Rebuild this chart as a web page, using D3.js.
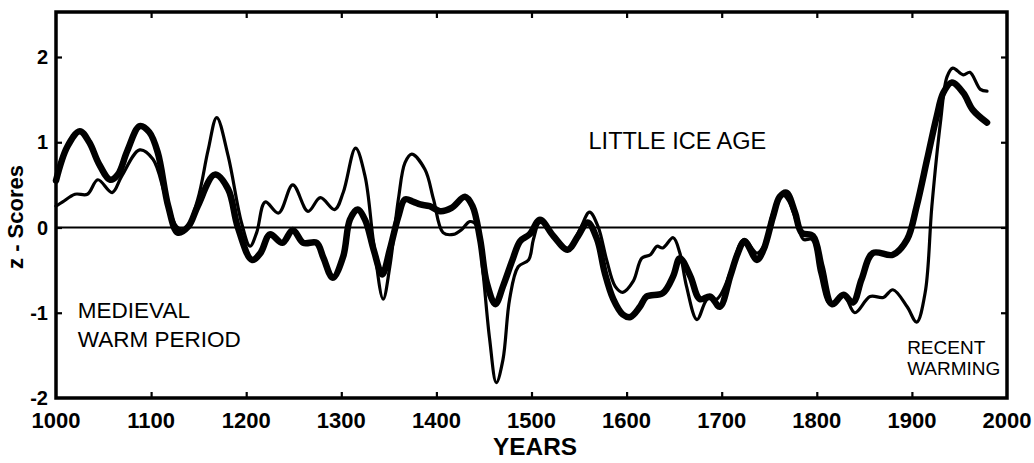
<!DOCTYPE html>
<html><head><meta charset="utf-8">
<script src="https://cdn.jsdelivr.net/npm/d3@7"></script>
<style>body{margin:0;background:#fff}svg{display:block}</style>
</head><body>
<svg id="c" width="1034" height="463"></svg>
<script>
const xTicks = [1000,1100,1200,1300,1400,1500,1600,1700,1800,1900,2000];
const yTicks = [-2,-1,0,1,2];
const thickYears = [1000,1012,1025,1035,1045,1057,1065,1075,1088,1098,1107,1118,1128,1139,1149,1167,1181,1191,1206,1215,1225,1238,1249,1260,1274,1281,1291,1302,1309,1317,1325,1334,1343,1351,1360,1367,1376,1383,1393,1404,1416,1430,1438,1446,1453,1462,1470,1480,1488,1498,1509,1523,1538,1549,1559,1569,1577,1586,1596,1604,1614,1621,1638,1649,1656,1667,1677,1688,1698,1709,1717,1724,1737,1744,1754,1761,1768,1777,1784,1796,1805,1816,1828,1838,1847,1859,1880,1895,1905,1916,1926,1933,1942,1954,1964,1979];
const thickValues = [0.55,0.95,1.13,1.0,0.75,0.56,0.62,0.9,1.19,1.12,0.88,0.25,-0.06,0.01,0.25,0.62,0.45,0.01,-0.38,-0.30,-0.08,-0.18,-0.03,-0.18,-0.18,-0.35,-0.59,-0.34,0.09,0.21,0.09,-0.26,-0.55,-0.26,0.13,0.33,0.30,0.27,0.25,0.19,0.23,0.36,0.25,-0.14,-0.65,-0.90,-0.69,-0.38,-0.16,-0.08,0.09,-0.10,-0.26,-0.10,0.06,-0.14,-0.53,-0.84,-1.02,-1.05,-0.93,-0.81,-0.77,-0.57,-0.36,-0.57,-0.84,-0.81,-0.93,-0.57,-0.30,-0.16,-0.38,-0.26,0.13,0.36,0.41,0.18,-0.06,-0.10,-0.46,-0.90,-0.79,-0.88,-0.61,-0.30,-0.32,-0.14,0.25,0.80,1.30,1.58,1.70,1.58,1.38,1.23];
const thinYears = [1000,1007,1020,1033,1044,1059,1069,1088,1102,1115,1127,1136,1149,1160,1169,1181,1195,1204,1211,1220,1234,1249,1265,1278,1293,1302,1315,1325,1334,1344,1351,1360,1367,1374,1388,1397,1407,1418,1427,1435,1443,1449,1456,1463,1470,1477,1486,1497,1502,1509,1527,1538,1551,1561,1570,1579,1588,1596,1607,1616,1625,1632,1638,1649,1656,1663,1674,1685,1695,1709,1719,1724,1737,1744,1754,1763,1770,1779,1786,1795,1803,1814,1828,1840,1856,1870,1880,1895,1905,1914,1921,1930,1937,1943,1954,1961,1972,1979];
const thinValues = [0.25,0.30,0.39,0.39,0.56,0.41,0.60,0.91,0.80,0.37,0.01,-0.03,0.33,0.91,1.29,0.84,0.06,-0.22,-0.06,0.30,0.17,0.50,0.19,0.35,0.21,0.41,0.93,0.60,-0.18,-0.84,-0.46,0.33,0.76,0.86,0.68,0.33,-0.06,-0.08,-0.02,0.07,0.01,-0.53,-1.31,-1.82,-1.55,-0.84,-0.46,-0.38,-0.14,0.06,-0.14,-0.26,-0.02,0.18,0.01,-0.38,-0.69,-0.76,-0.63,-0.36,-0.32,-0.22,-0.24,-0.12,-0.30,-0.69,-1.08,-0.84,-0.84,-0.53,-0.20,-0.14,-0.30,-0.22,0.18,0.39,0.32,0.06,-0.14,-0.14,-0.53,-0.90,-0.79,-1.00,-0.81,-0.82,-0.73,-0.93,-1.11,-0.76,0.25,1.23,1.77,1.87,1.79,1.82,1.62,1.60];
const annotations = [
  {lines:["MEDIEVAL","WARM PERIOD"], year:1023, value:-1.06, size:22.5, lh:29},
  {lines:["LITTLE ICE AGE"], year:1560, value:0.92, size:23.5, lh:0},
  {lines:["RECENT","WARMING"], year:1895, value:-1.48, size:19, lh:21}
];

const svg = d3.select("#c");
const L=56, R=1007, T=12, B=398;
const x = d3.scaleLinear().domain([1000,2000]).range([L,R]);
const y = d3.scaleLinear().domain([-2,2]).range([B,57]);
const font = "'Liberation Sans', Arial, Helvetica, sans-serif";

// zero line
svg.append("line").attr("x1",L).attr("x2",R).attr("y1",y(0)).attr("y2",y(0))
  .attr("stroke","#000").attr("stroke-width",2.2);

const line = d3.line().x(d=>x(d[0])).y(d=>y(d[1])).curve(d3.curveCatmullRom.alpha(0.5));
svg.append("path").datum(thinYears.map((d,i)=>[d,thinValues[i]]))
  .attr("d",line).attr("fill","none").attr("stroke","#000").attr("stroke-width",3.2)
  .attr("stroke-linejoin","round").attr("stroke-linecap","round");
svg.append("path").datum(thickYears.map((d,i)=>[d,thickValues[i]]))
  .attr("d",line).attr("fill","none").attr("stroke","#000").attr("stroke-width",6.5)
  .attr("stroke-linejoin","round").attr("stroke-linecap","round");

// axes with inward ticks
const inner = xTicks.slice(1,-1);
const gB = svg.append("g").attr("transform",`translate(0,${B})`)
  .call(d3.axisBottom(x).tickValues(inner).tickSize(-6).tickFormat(""));
const gT = svg.append("g").attr("transform",`translate(0,${T})`)
  .call(d3.axisTop(x).tickValues(inner).tickSize(-6).tickFormat(""));
const gL = svg.append("g").attr("transform",`translate(${L},0)`)
  .call(d3.axisLeft(y).tickValues(yTicks.slice(1)).tickSize(-6).tickFormat(""));
const gR = svg.append("g").attr("transform",`translate(${R},0)`)
  .call(d3.axisRight(y).tickValues(yTicks.slice(1)).tickSize(-6).tickFormat(""));
[gB,gT,gL,gR].forEach(g=>{g.select(".domain").remove();g.selectAll("line").attr("stroke","#000").attr("stroke-width",2.2);});

// frame
svg.append("rect").attr("x",L).attr("y",T).attr("width",R-L).attr("height",B-T)
  .attr("fill","none").attr("stroke","#000").attr("stroke-width",3.5);

// tick labels
svg.append("g").selectAll("text").data(xTicks).join("text")
  .attr("x",d=>x(d)).attr("y",428).attr("text-anchor","middle")
  .attr("font-family",font).attr("font-weight","bold").attr("font-size",22)
  .text(d=>d);
svg.append("g").selectAll("text").data(yTicks).join("text")
  .attr("x",48).attr("y",d=>y(d)+7).attr("text-anchor","end")
  .attr("font-family",font).attr("font-weight","bold").attr("font-size",20)
  .text(d=>d);

// axis titles
svg.append("text").attr("x",535).attr("y",455).attr("text-anchor","middle")
  .attr("font-family",font).attr("font-weight","bold").attr("font-size",24)
  .attr("textLength",84).attr("lengthAdjust","spacingAndGlyphs").text("YEARS");
svg.append("text").attr("transform","translate(23,217) rotate(-90)").attr("text-anchor","middle")
  .attr("font-family",font).attr("font-weight","bold").attr("font-size",22).text("z - Scores");

// annotations
annotations.forEach(a=>{
  const t = svg.append("text").attr("font-family",font).attr("font-size",a.size);
  a.lines.forEach((s,i)=>t.append("tspan").attr("x",x(a.year)).attr("y",y(a.value)+i*a.lh).text(s));
});
</script>
</body></html>
